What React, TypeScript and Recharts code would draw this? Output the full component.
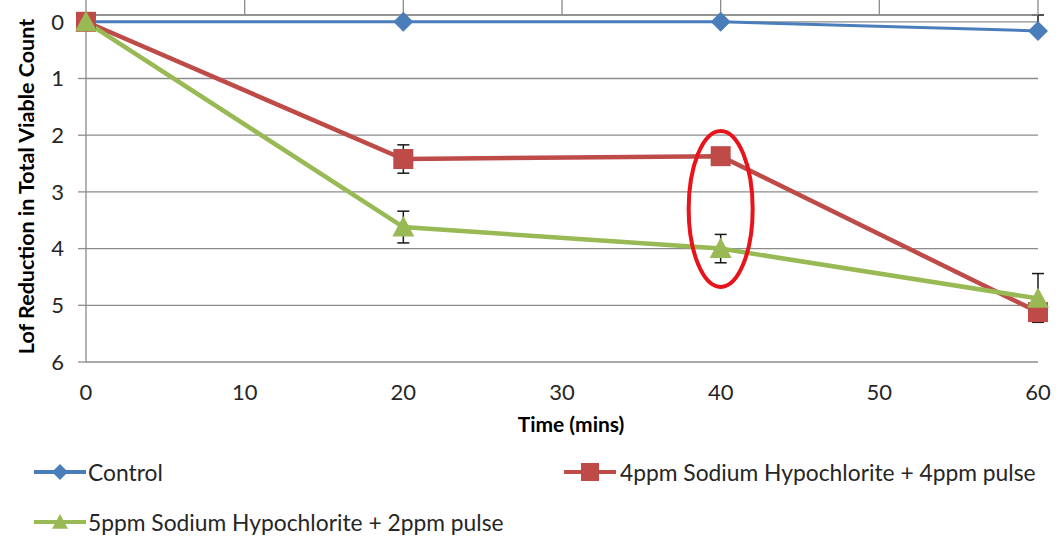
import React from 'react';
import { LineChart, Line, XAxis, YAxis, CartesianGrid, ErrorBar, ReferenceDot, Legend } from 'recharts';

const times = [0, 20, 40, 60];
const xTicks = [0, 10, 20, 30, 40, 50, 60];
const yTicks = [0, 1, 2, 3, 4, 5, 6];

const controlValues = [0, 0, 0, 0.16];
const controlErrors = [[0, 0], [0, 0], [0, 0], [0.28, 0.05]];

const pulse4Values = [0, 2.42, 2.37, 5.12];
const pulse4Errors = [[0, 0], [0.25, 0.25], [0.05, 0.05], [0.05, 0.18]];

const pulse2Values = [0, 3.62, 4.0, 4.88];
const pulse2Errors = [[0, 0], [0.28, 0.28], [0.25, 0.25], [0.44, 0.1]];

const seriesNames = ['Control', '4ppm Sodium Hypochlorite + 4ppm pulse', '5ppm Sodium Hypochlorite + 2ppm pulse'];
const seriesColors = ['#4a7ebb', '#be4b48', '#98b954'];
const xTitle = 'Time (mins)';
const yTitle = 'Lof Reduction in Total Viable Count';
const highlightPoint = { x: 40, y: 3.3 };

const data = times.map((t, i) => ({
  time: t,
  control: controlValues[i],
  controlErr: controlErrors[i],
  pulse4: pulse4Values[i],
  pulse4Err: pulse4Errors[i],
  pulse2: pulse2Values[i],
  pulse2Err: pulse2Errors[i],
}));

const FONT = 'Lato, "Open Sans", sans-serif';
const GRID = '#8c8c8c';
const TEXT = '#262626';

type MarkerProps = { cx: number; cy: number; r: number; color: string };

const Diamond = ({ cx, cy, r, color }: MarkerProps) => (
  <path d={`M${cx} ${cy - r}L${cx + r} ${cy}L${cx} ${cy + r}L${cx - r} ${cy}Z`} fill={color} />
);
const Square = ({ cx, cy, r, color }: MarkerProps) => (
  <rect x={cx - r} y={cy - r} width={2 * r} height={2 * r} fill={color} />
);
const Triangle = ({ cx, cy, r, color }: MarkerProps) => (
  <path d={`M${cx} ${cy - r}L${cx + r} ${cy + r * 0.85}L${cx - r} ${cy + r * 0.85}Z`} fill={color} />
);

const markers = [Diamond, Square, Triangle];
const markerSizes = [10, 10, 11];

const makeDot = (idx: number) => (p: any) => {
  const M = markers[idx];
  if (p.cx == null || p.cy == null) return <g key={`d${idx}-${p.index}`} />;
  return (
    <g key={`d${idx}-${p.index}`}>
      <M cx={p.cx} cy={p.cy} r={markerSizes[idx]} color={seriesColors[idx]} />
    </g>
  );
};

const legendLayout = [
  { lineX: 34, textX: 88, rowY: 22 },
  { lineX: 564, textX: 620, rowY: 22 },
  { lineX: 34, textX: 88, rowY: 72 },
];

const renderLegend = () => (
  <div style={{ position: 'relative', width: 1060, height: 100, fontFamily: FONT }}>
    {seriesNames.map((name, i) => {
      const L = legendLayout[i];
      const M = markers[i];
      return (
        <div key={name}>
          <svg
            width={54}
            height={24}
            style={{ position: 'absolute', left: L.lineX, top: L.rowY - 12 }}
          >
            <line x1={0} y1={12} x2={52} y2={12} stroke={seriesColors[i]} strokeWidth={4} />
            <M cx={26} cy={12} r={i === 1 ? 9 : 8} color={seriesColors[i]} />
          </svg>
          <span
            style={{
              position: 'absolute',
              left: L.textX,
              top: L.rowY - 14,
              fontSize: 22.8,
              lineHeight: '28px',
              color: TEXT,
              whiteSpace: 'nowrap',
            }}
          >
            {name}
          </span>
        </div>
      );
    })}
  </div>
);

const XTitle = (props: any) => {
  const vb = props.viewBox || {};
  return (
    <text
      x={vb.x + vb.width / 2 + 9}
      y={vb.y + 61}
      textAnchor="middle"
      dominantBaseline="central"
      fontFamily={FONT}
      fontWeight="bold"
      fontSize={21}
      fill="#000"
    >
      {xTitle}
    </text>
  );
};

const YTitle = (props: any) => {
  const vb = props.viewBox || {};
  const cx = 26;
  const cy = vb.y + vb.height / 2 - 2;
  return (
    <text
      x={cx}
      y={cy}
      transform={`rotate(-90 ${cx} ${cy})`}
      textAnchor="middle"
      dominantBaseline="central"
      fontFamily={FONT}
      fontWeight="bold"
      fontSize={21.5}
      fill="#000"
    >
      {yTitle}
    </text>
  );
};

export default function App() {
  return (
    <div style={{ position: 'absolute', left: 0, top: 0, width: 1060, height: 539, background: '#fff' }}>
      <LineChart
        width={1060}
        height={539}
        data={data}
        margin={{ top: 14, right: 22, bottom: 106, left: 0 }}
        style={{ fontFamily: FONT }}
      >
        <CartesianGrid vertical={false} stroke={GRID} strokeWidth={1.3} />
        <XAxis
          xAxisId="top"
          dataKey="time"
          type="number"
          orientation="top"
          domain={[0, 60]}
          ticks={xTicks}
          height={1}
          tickSize={20}
          tickFormatter={() => ''}
          axisLine={{ stroke: GRID, strokeWidth: 1.3 }}
          tickLine={{ stroke: GRID, strokeWidth: 1.3 }}
        />
        <XAxis
          xAxisId="b"
          dataKey="time"
          type="number"
          orientation="bottom"
          domain={[0, 60]}
          ticks={xTicks}
          height={71}
          axisLine={false}
          tickLine={false}
          tickSize={0}
          tickMargin={22}
          tick={{ fontSize: 22, fill: TEXT, fontFamily: FONT }}
          label={XTitle}
        />
        <YAxis
          type="number"
          reversed
          domain={[0, 6]}
          ticks={yTicks}
          width={86}
          tickSize={8}
          tickMargin={14}
          axisLine={{ stroke: GRID, strokeWidth: 1.3 }}
          tickLine={{ stroke: GRID, strokeWidth: 1.3 }}
          tick={{ fontSize: 22, fill: TEXT, fontFamily: FONT }}
          label={YTitle}
        />
        <Line
          xAxisId="top"
          dataKey="control"
          name={seriesNames[0]}
          stroke={seriesColors[0]}
          strokeWidth={3}
          dot={makeDot(0)}
          activeDot={false}
          isAnimationActive={false}
        >
          <ErrorBar dataKey="controlErr" width={6} stroke="#1a1a1a" strokeWidth={1.5} direction="y" />
        </Line>
        <Line
          xAxisId="b"
          dataKey="pulse4"
          name={seriesNames[1]}
          stroke={seriesColors[1]}
          strokeWidth={4.5}
          dot={makeDot(1)}
          activeDot={false}
          isAnimationActive={false}
        >
          <ErrorBar dataKey="pulse4Err" width={6} stroke="#1a1a1a" strokeWidth={1.5} direction="y" />
        </Line>
        <Line
          xAxisId="b"
          dataKey="pulse2"
          name={seriesNames[2]}
          stroke={seriesColors[2]}
          strokeWidth={4.5}
          dot={makeDot(2)}
          activeDot={false}
          isAnimationActive={false}
        >
          <ErrorBar dataKey="pulse2Err" width={6} stroke="#1a1a1a" strokeWidth={1.5} direction="y" />
        </Line>
        <ReferenceDot
          xAxisId="b"
          x={highlightPoint.x}
          y={highlightPoint.y}
          ifOverflow="visible"
          shape={(p: any) => (
            <ellipse cx={p.cx} cy={p.cy} rx={32} ry={78} fill="none" stroke="#e8141c" strokeWidth={4} />
          )}
        />
        <Legend
          layout="horizontal"
          verticalAlign="middle"
          align="center"
          wrapperStyle={{ top: 450, left: 0, width: 1060, height: 100 }}
          content={renderLegend}
        />
      </LineChart>
    </div>
  );
}
